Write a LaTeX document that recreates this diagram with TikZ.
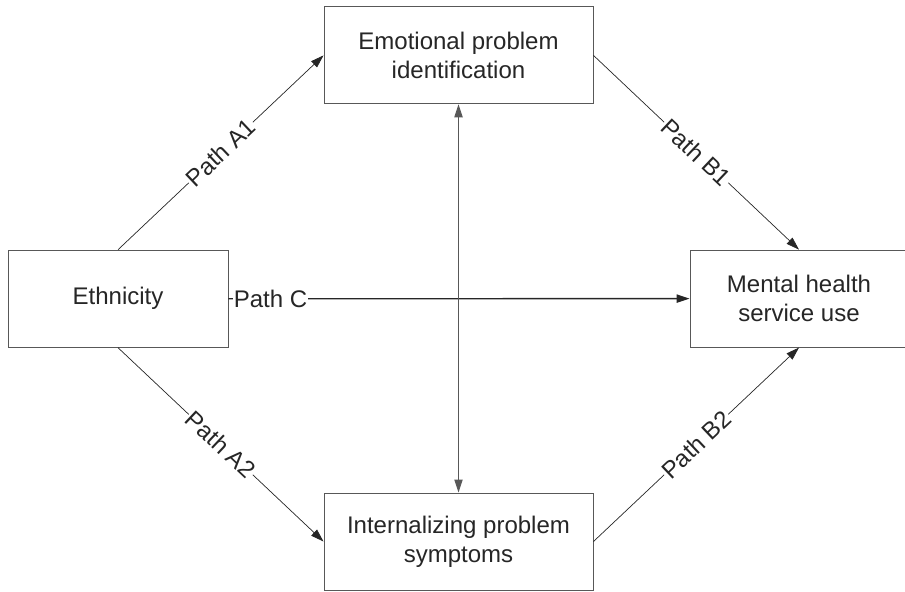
\documentclass[tikz,border=0pt]{standalone}
\usepackage{fontspec}
\setmainfont{Liberation Sans}
\usetikzlibrary{arrows.meta}
\definecolor{boxGray}{RGB}{88,88,88}
\definecolor{inkGray}{RGB}{38,38,38}

\begin{document}
\begin{tikzpicture}[x=0.03cm,y=-0.03cm,
  varBox/.style={draw=boxGray,line width=0.8pt,fill=white,align=center,minimum height=2.91cm,font=\fontsize{20.5}{24.7}\selectfont\color{inkGray}},
  pathLbl/.style={fill=white,inner sep=1pt,font=\fontsize{20.5}{24}\selectfont\color{inkGray}},
  pathArrow/.style={-{Triangle[length=3.9mm,width=2.5mm]},draw=inkGray,line width=0.6pt}]
\useasboundingbox (0,0) rectangle (905,591);
\node[varBox,minimum width=8.07cm] (emo) at (458.5,55.4) {Emotional problem\\identification};
\node[varBox,minimum width=6.6cm] (eth) at (118,298.7) {Ethnicity};
\node[varBox,minimum width=6.54cm] (mhs) at (799,298.6) {Mental health\\service use};
\node[varBox,minimum width=8.07cm] (ipr) at (458.5,541.5) {Internalizing problem\\symptoms};
% paths
\draw[pathArrow] (eth.north) -- node[pathLbl,sloped] {Path A1} (emo.west);
\draw[pathArrow] (emo.east) -- node[pathLbl,sloped] {Path B1} (mhs.north);
\draw[pathArrow] (eth.south) -- node[pathLbl,sloped] {Path A2} (ipr.west);
\draw[pathArrow] (ipr.east) -- node[pathLbl,sloped] {Path B2} (mhs.south);
\draw[pathArrow,line width=1.1pt] (eth.east) -- node[pathLbl,pos=0,anchor=west,xshift=3pt] {Path C} (mhs.west);
\draw[pathArrow,{Triangle[length=3.9mm,width=2.5mm]}-{Triangle[length=3.9mm,width=2.5mm]},draw=boxGray,line width=0.8pt] (emo.south) -- (ipr.north);
\end{tikzpicture}
\end{document}
